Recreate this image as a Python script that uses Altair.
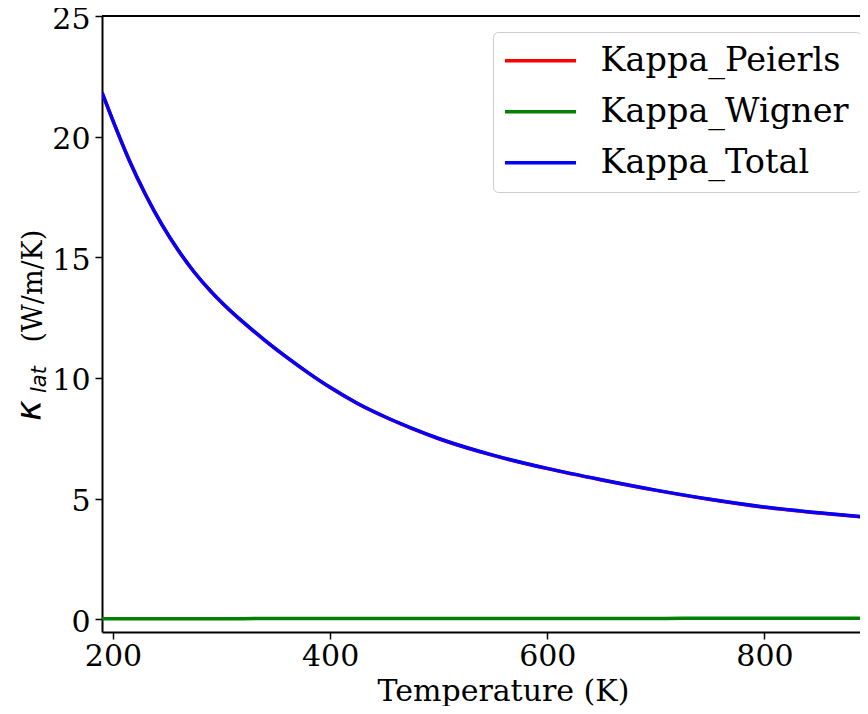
import altair as alt
import pandas as pd

temperature = [190, 200, 215, 230, 245, 260, 275, 290, 305, 320, 340, 360, 380, 400,
               425, 450, 475, 500, 550, 600, 650, 700, 750, 800, 850, 900]
kappa_total = [21.82, 20.66, 19.02, 17.60, 16.36, 15.30, 14.38, 13.60, 12.92, 12.31, 11.56, 10.86,
               10.21, 9.61, 8.95, 8.40, 7.92, 7.49, 6.80, 6.25, 5.78, 5.35, 4.97, 4.65, 4.41, 4.21]
kappa_peierls = [21.81, 20.65, 19.01, 17.59, 16.35, 15.29, 14.37, 13.59, 12.91, 12.30, 11.55, 10.85,
                 10.20, 9.60, 8.94, 8.39, 7.91, 7.48, 6.79, 6.24, 5.77, 5.34, 4.96, 4.64, 4.40, 4.20]
kappa_wigner = [0.02, 0.02, 0.02, 0.02, 0.02, 0.02, 0.02, 0.02, 0.02, 0.02, 0.03, 0.03,
                0.03, 0.03, 0.03, 0.03, 0.03, 0.03, 0.03, 0.03, 0.03, 0.03, 0.04, 0.04, 0.04, 0.04]

series_names = ["Kappa_Peierls", "Kappa_Wigner", "Kappa_Total"]
series_colors = ["#ff0000", "#008000", "#0000ff"]
series_values = [kappa_peierls, kappa_wigner, kappa_total]

x_ticks = [200, 400, 600, 800]
y_ticks = [0, 5, 10, 15, 20, 25]

rows = []
for name, vals in zip(series_names, series_values):
    for t, v in zip(temperature, vals):
        rows.append({"T": t, "kappa": v, "series": name})
df = pd.DataFrame(rows)

W, H = 758, 616
x_scale = alt.Scale(domain=[189.9, 888.0], nice=False, zero=False)
y_scale = alt.Scale(domain=[-0.53, 25.0], nice=False, zero=False)
color_scale = alt.Scale(domain=series_names, range=series_colors)

serif = "DejaVu Serif"

x_enc = alt.X("T:Q", scale=x_scale,
              axis=alt.Axis(values=x_ticks, title="Temperature (K)", grid=False,
                            labelFont=serif, labelFontSize=30, labelColor="black",
                            labelPadding=2, tickSize=7, tickWidth=1.5, tickColor="black",
                            domainColor="black", domainWidth=2,
                            titleFont=serif, titleFontSize=30, titleFontWeight="normal",
                            titleColor="black", titleX=401, titleY=68,
                            titleBaseline="alphabetic", labelFlush=False))
y_enc = alt.Y("kappa:Q", scale=y_scale,
              axis=alt.Axis(values=y_ticks, title="(W/m/K)", grid=False,
                            labelFont=serif, labelFontSize=30, labelColor="black",
                            labelPadding=5, labelOffset=3,
                            tickSize=7, tickWidth=1.5, tickColor="black",
                            domainColor="black", domainWidth=2,
                            titleFont=serif, titleFontSize=27, titleFontWeight="normal",
                            titleColor="black", titleAngle=270, titleAlign="left",
                            titleBaseline="alphabetic", titleX=-61, titleY=326,
                            labelFlush=False))

legend = alt.Legend(title=None, orient="none", legendX=391, legendY=16,
                    symbolType="M-1.2,0H3.875", symbolSize=784, symbolStrokeWidth=3.5,
                    labelFont=serif, labelFontSize=33.5, labelColor="black", labelLimit=500,
                    rowPadding=16, labelOffset=62, padding=12,
                    fillColor="white", strokeColor="#cccccc", cornerRadius=5)

layers = []
for name in series_names:
    layers.append(
        alt.Chart(df).transform_filter(alt.datum.series == name)
        .mark_line(strokeWidth=3.5, clip=True, interpolate="monotone")
        .encode(x=x_enc, y=y_enc,
                color=alt.Color("series:N", scale=color_scale, legend=legend,
                                sort=series_names))
    )

dummy = pd.DataFrame({"a": [0]})
top_border = alt.Chart(dummy).mark_rule(color="black", strokeWidth=2).encode(
    x=alt.value(0), x2=alt.value(W), y=alt.value(0))
kappa_sym = alt.Chart(dummy).mark_text(
    font="DejaVu Sans", fontStyle="italic", fontSize=35, angle=270, align="left",
    baseline="alphabetic", color="black").encode(
    x=alt.value(-61), y=alt.value(405), text=alt.value("κ"))
kappa_sub = alt.Chart(dummy).mark_text(
    font="DejaVu Sans", fontStyle="italic", fontSize=21, angle=270, align="left",
    baseline="alphabetic", color="black").encode(
    x=alt.value(-56), y=alt.value(377), text=alt.value("lat"))

chart = alt.layer(*layers, top_border, kappa_sym, kappa_sub).properties(
    width=W, height=H,
    autosize=alt.AutoSizeParams(type="none"),
    padding={"left": 94, "top": 8, "right": 0, "bottom": 74},
).configure_view(stroke=None).configure(background="white")

chart.save("out.html", embed_options={"renderer": "svg", "actions": False})
